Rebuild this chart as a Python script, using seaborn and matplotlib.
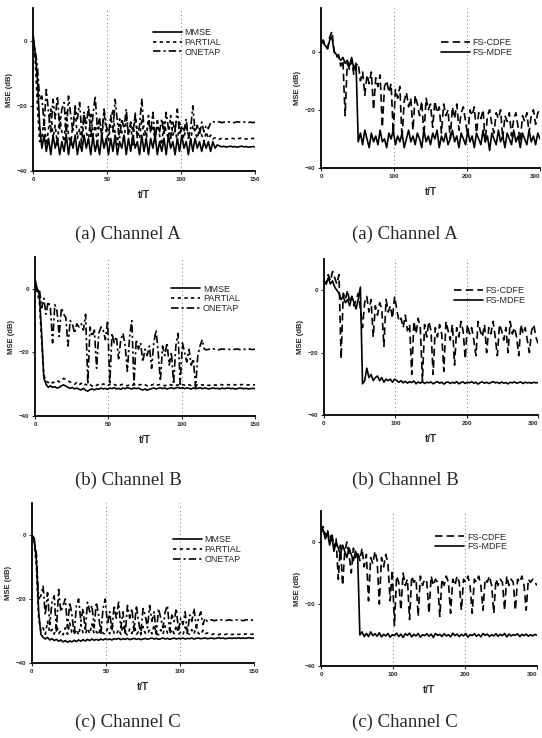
import numpy as np
import pandas as pd
import matplotlib
matplotlib.use("Agg")
import matplotlib.pyplot as plt
import seaborn as sns

sns.set_theme(style="ticks")
plt.rcParams['font.family'] = ['Liberation Sans', 'DejaVu Sans']

# ---------------- data ----------------
T_LEFT = np.arange(0, 151, 1.5)   # t/T samples, left column
T_RIGHT = np.arange(0, 301, 3)    # t/T samples, right column

LA_MMSE = [2, -4, -12, -26, -33, -29, -34, -30, -35, -29,
           -33, -30, -35, -31, -34, -29, -35, -30, -33, -29,
           -35, -31, -34, -29, -33, -30, -35, -29, -34, -31,
           -35, -29, -33, -30, -35, -30, -34, -29, -35, -31,
           -33, -29, -35, -30, -34, -29, -33, -31, -35, -29,
           -34, -30, -35, -30, -33, -29, -35, -31, -34, -30,
           -35, -29, -33, -31, -35, -30, -34, -29, -33, -31,
           -35, -30, -34, -30, -33, -31, -34, -31, -33, -31,
           -34, -31, -33, -32, -32.3, -32.6, -32.4, -32.7, -32.5, -32.4,
           -32.6, -32.5, -32.7, -32.5, -32.4, -32.6, -32.5, -32.7, -32.6, -32.5,
           -32.6]
LA_PARTIAL = [0, -6, -20, -31, -30, -24, -32, -27, -21, -30,
              -26, -32, -23, -28, -31, -22, -29, -32, -25, -21,
              -30, -27, -32, -23, -28, -31, -22, -29, -26, -32,
              -24, -30, -22, -28, -31, -25, -21, -29, -32, -24,
              -28, -31, -23, -29, -26, -32, -22, -28, -30, -24,
              -29, -31, -23, -28, -26, -31, -24, -29, -32, -25,
              -28, -30, -23, -29, -27, -31, -25, -28, -30, -26,
              -29, -31, -26, -28, -30, -27, -29, -31, -28, -30,
              -29, -30.2, -29.8, -30.1, -30.3, -29.9, -30.0, -30.2, -30.1, -29.9,
              -30.0, -30.2, -30.1, -30.0, -29.9, -30.1, -30.2, -30.0, -30.1, -30.0,
              -30.1]
LA_ONETAP = [1, -3, -8, -18, -17, -26, -15, -22, -28, -18,
             -24, -17, -27, -21, -19, -29, -17, -23, -28, -20,
             -24, -19, -29, -22, -26, -20, -30, -23, -17, -27,
             -24, -29, -21, -26, -29, -23, -28, -18, -25, -30,
             -24, -27, -21, -29, -25, -28, -23, -30, -26, -18,
             -27, -29, -25, -28, -22, -30, -26, -28, -24, -29,
             -22, -27, -30, -25, -28, -21, -29, -26, -28, -24,
             -30, -27, -20, -28, -26, -29, -25, -28, -26, -27,
             -25.2, -24.8, -25.1, -25.0, -24.9, -25.2, -25.0, -25.1, -24.9, -25.0,
             -25.2, -25.1, -24.9, -25.0, -25.1, -25.0, -24.9, -25.1, -25.0, -25.2,
             -25.0]

LB_MMSE = [3, 0, -2, -14, -28, -30, -31, -30.5, -31, -30.8,
           -31.2, -31, -30.5, -30.2, -30.6, -31, -31.3, -31, -31.5, -31.2,
           -31.6, -31.8, -31.3, -31.9, -32.2, -31.7, -31.5, -31.8, -31.4, -31.6,
           -31.2, -31.5, -31.3, -31.6, -31.2, -31.4, -31.1, -31.5, -31.3, -31.6,
           -31.2, -31.4, -31.1, -31.3, -31.5, -31.2, -31.4, -31.2, -31.6, -31.8,
           -31.5, -31.9, -31.6, -31.4, -31.2, -31.5, -31.3, -31.1, -31.4, -31.2,
           -31.5, -31.3, -31.1, -31.4, -31.2, -31.0, -31.3, -31.1, -31.4, -31.2,
           -31.3, -31.5, -31.2, -31.4, -31.3, -31.1, -31.4, -31.2, -31.3, -31.5,
           -31.3, -31.2, -31.4, -31.3, -31.5, -31.2, -31.4, -31.3, -31.2, -31.4,
           -31.3, -31.5, -31.4, -31.2, -31.3, -31.4, -31.3, -31.5, -31.4, -31.3,
           -31.4]
LB_PARTIAL = [2, -1, -4, -16, -27, -29, -29.5, -29, -29.6, -29.2,
              -28.8, -29.3, -28.7, -28.2, -28.5, -29, -29.3, -29.6, -30, -29.5,
              -30.2, -29.7, -30.4, -30, -30.5, -30.1, -30.6, -30.2, -30.4, -30,
              -30.3, -29.9, -30.2, -30.5, -30, -30.3, -30.1, -30.4, -30.6, -30.2,
              -30, -30.3, -30.5, -30.1, -30.4, -30.2, -30, -30.3, -30.1, -30.4,
              -30.2, -30.5, -30.1, -30.3, -30, -30.4, -30.2, -30.1, -30.3, -30.5,
              -30.2, -30, -30.3, -30.1, -30.4, -30.2, -30.5, -30.1, -30.3, -30,
              -30.2, -30.4, -30.1, -30.3, -30.2, -30, -30.3, -30.1, -30.2, -30.4,
              -30.2, -30.1, -30.3, -30.2, -30, -30.2, -30.3, -30.1, -30.2, -30.3,
              -30.1, -30.2, -30.3, -30.2, -30.1, -30.2, -30.3, -30.2, -30.1, -30.2,
              -30.2]
LB_ONETAP = [2, -1, 0, -6, -3, -8, -4, -6, -17, -5,
             -7, -15, -6, -8, -9, -18, -10, -11, -14, -11,
             -12, -11, -13, -8, -30, -12, -15, -13, -25, -14,
             -12, -13, -16, -10, -30, -14, -17, -15, -22, -16,
             -14, -18, -26, -15, -10, -30, -16, -19, -17, -23,
             -19, -21, -18, -25, -17, -13, -20, -29, -18, -21,
             -17, -24, -20, -30, -18, -14, -30, -17, -20, -23,
             -19, -24, -22, -31, -21, -18, -16, -19, -19.2, -19,
             -19.1, -18.9, -19, -19.2, -19.1, -18.9, -19, -19.1, -19, -19.2,
             -19.1, -19, -18.9, -19.1, -19.2, -19, -19.1, -18.9, -19, -19.1,
             -19]

LC_MMSE = [0, -1, -8, -24, -31, -32, -32.5, -32, -32.8, -32.4,
           -33, -32.6, -33.2, -32.8, -33.4, -33, -33.5, -33.1, -33.4, -32.9,
           -33.3, -32.8, -33.2, -32.7, -33.1, -32.6, -33, -32.5, -32.9, -32.6,
           -32.9, -32.5, -32.8, -32.4, -32.7, -32.5, -32.8, -32.4, -32.6, -32.3,
           -32.7, -32.4, -32.6, -32.3, -32.7, -32.5, -32.3, -32.6, -32.4, -32.7,
           -32.5, -32.3, -32.6, -32.4, -32.2, -32.5, -32.3, -32.6, -32.4, -32.2,
           -32.5, -32.3, -32.6, -32.4, -32.2, -32.5, -32.3, -32.4, -32.2, -32.5,
           -32.3, -32.4, -32.2, -32.5, -32.3, -32.2, -32.4, -32.3, -32.2, -32.4,
           -32.3, -32.2, -32.4, -32.3, -32.1, -32.3, -32.2, -32.4, -32.3, -32.2,
           -32.3, -32.2, -32.3, -32.1, -32.3, -32.2, -32.3, -32.2, -32.1, -32.3,
           -32.2]
LC_PARTIAL = [0, -2, -10, -26, -30, -29, -31, -27, -30.5, -29.5,
              -31, -28, -30.8, -30, -31.2, -29, -31, -27.5, -30.5, -31,
              -29.5, -31.2, -28, -30.6, -31, -29.2, -30.8, -27.8, -31, -30.2,
              -31.2, -28.5, -30.7, -31, -29.3, -30.9, -27.6, -30.8, -31.1, -29.5,
              -31, -28.2, -30.6, -31.2, -29.4, -30.8, -28, -31, -30.3, -31.2,
              -28.6, -30.7, -31, -29.5, -30.9, -28.1, -30.8, -31.2, -29.6, -31,
              -28.4, -30.6, -31.1, -29.4, -30.8, -28.3, -31, -30.4, -31.2, -28.8,
              -30.7, -31, -29.6, -30.9, -28.5, -30.8, -31.1, -29.8, -30.9, -30.6,
              -31, -31.1, -30.9, -31, -31.2, -30.9, -31, -31.1, -30.9, -31,
              -31.1, -31, -30.9, -31.1, -31, -31.2, -30.9, -31, -31.1, -31,
              -31]
LC_ONETAP = [0, -2, -6, -20, -19, -16, -25, -18, -28, -21,
             -19, -30, -17, -24, -22, -20, -29, -21, -25, -31,
             -22, -20, -27, -23, -30, -21, -24, -22, -29, -21,
             -25, -31, -23, -20, -28, -24, -30, -22, -26, -21,
             -29, -24, -31, -22, -26, -23, -30, -22, -27, -31,
             -23, -25, -29, -22, -27, -24, -31, -23, -26, -29,
             -24, -22, -30, -25, -27, -23, -30, -26, -28, -24,
             -31, -25, -27, -23, -29, -26, -24, -28, -26, -27,
             -26.6, -26.5, -26.8, -26.6, -26.7, -26.5, -26.6, -26.8, -26.6, -26.5,
             -26.7, -26.6, -26.5, -26.7, -26.6, -26.8, -26.6, -26.5, -26.7, -26.6,
             -26.6]

RA_CDFE = [3, 4, 2, 1, 5, 7, 0, -2, -1, -5,
           -3, -22, -4, -6, -3, -8, -5, -4, -10, -7,
           -15, -8, -11, -7, -20, -9, -12, -8, -26, -12,
           -10, -14, -11, -28, -13, -16, -12, -30, -17, -14,
           -19, -16, -27, -15, -18, -22, -17, -29, -16, -20,
           -18, -26, -17, -21, -19, -28, -18, -22, -20, -30,
           -19, -23, -18, -27, -21, -19, -24, -29, -20, -22,
           -19, -28, -21, -23, -20, -31, -22, -20, -25, -28,
           -21, -23, -20, -30, -22, -24, -21, -29, -23, -21,
           -26, -31, -22, -24, -21, -28, -22, -20, -25, -21,
           -20]
RA_MDFE = [3, 3, 2, 1, 4, 5, 0, -1, -2, -3,
           -2, -4, -3, -5, -2, -6, -4, -31, -28, -32,
           -27, -30, -33, -28, -31, -29, -32, -27, -31, -30,
           -33, -28, -30, -27, -32, -29, -31, -28, -33, -30,
           -27, -31, -29, -32, -28, -30, -33, -27, -31, -29,
           -32, -28, -30, -27, -33, -29, -31, -28, -32, -30,
           -27, -31, -29, -33, -28, -30, -32, -27, -31, -29,
           -33, -28, -30, -32, -27, -31, -29, -34, -28, -30,
           -32, -27, -31, -29, -33, -28, -30, -32, -27, -31,
           -29, -33, -28, -30, -32, -27, -31, -29, -32, -28,
           -30]

RB_CDFE = [3, 2, 5, 3, 6, 4, 2, 5, -22, -1,
           -3, 0, -4, -2, -5, -3, -1, -6, -12, -4,
           -2, -7, -3, -15, -5, -8, -4, -6, -18, -3,
           -7, -5, -9, -2, -6, -10, -9, -12, -8, -13,
           -11, -27, -10, -14, -9, -12, -29, -11, -15, -10,
           -13, -27, -12, -15, -11, -14, -26, -10, -13, -16,
           -11, -24, -12, -15, -10, -13, -22, -11, -14, -12,
           -16, -21, -10, -13, -15, -11, -20, -12, -14, -10,
           -15, -21, -11, -13, -16, -12, -20, -10, -14, -12,
           -15, -21, -11, -14, -12, -16, -20, -13, -11, -15,
           -17]
RB_MDFE = [3, 2, 4, 2, 3, 1, 0, -1, -3, -2,
           -4, -3, -5, -2, -4, -6, -3, 1, -30, -29,
           -25, -28, -27, -29, -28, -27.5, -29, -28, -29.5, -28.5,
           -29, -28.5, -29.5, -28.5, -29, -29.5, -29, -29.7, -29.2, -29.8,
           -29.3, -29.6, -29.1, -30, -29.4, -29.8, -29.3, -29.9, -29.5, -29.7,
           -29.4, -30, -29.6, -29.3, -29.8, -29.5, -30.1, -29.6, -29.4, -29.9,
           -29.5, -29.8, -29.3, -30, -29.6, -29.4, -29.9, -29.5, -29.7, -29.3,
           -29.8, -29.5, -30.1, -29.6, -29.4, -29.8, -29.5, -29.9, -29.6, -29.3,
           -29.7, -29.5, -29.9, -29.4, -29.8, -29.6, -30, -29.5, -29.7, -29.4,
           -29.8, -29.6, -29.4, -29.9, -29.5, -29.7, -29.6, -29.8, -29.5, -29.7,
           -29.6]

RC_CDFE = [3, 5, 2, 4, 0, 3, -2, 1, -12, -1,
           -14, -3, 0, -4, -10, -2, -5, -3, -6, -2,
           -8, -4, -19, -5, -7, -3, -6, -20, -5, -8,
           -4, -7, -19, -9, -27, -11, -13, -22, -10, -14,
           -12, -25, -11, -13, -12, -24, -11, -14, -12, -13,
           -23, -11, -14, -12, -13, -24, -12, -14, -11, -13,
           -23, -12, -14, -11, -13, -22, -12, -13, -11, -14,
           -23, -12, -13, -11, -14, -22, -12, -13, -11, -14,
           -23, -12, -14, -12, -13, -22, -11, -14, -12, -13,
           -22, -12, -13, -11, -14, -22, -12, -13, -12, -13,
           -14]
RC_MDFE = [3, 4, 1, 3, -1, 2, -3, 0, -2, -4,
           -1, -3, -5, -2, -4, -6, -3, -5, -30, -29,
           -30.5, -29.5, -30.5, -29, -30.2, -29.6, -30.4, -29.3, -30.6, -29.8,
           -30.3, -29.5, -30.7, -29.9, -30.2, -29.4, -30.5, -29.7, -30.8, -29.6,
           -30.1, -29.4, -30.6, -29.8, -30.3, -29.5, -30.7, -29.9, -30.2, -29.6,
           -30.4, -29.7, -30.8, -29.5, -30.1, -29.8, -30.5, -29.6, -30.3, -29.9,
           -30.6, -29.4, -30.2, -29.7, -30.5, -29.8, -30.3, -29.5, -30.7, -29.9,
           -30.2, -29.6, -30.4, -29.8, -30.6, -29.5, -30.1, -29.7, -30.5, -29.9,
           -30.3, -29.6, -30.4, -29.8, -30.2, -29.5, -30.6, -29.7, -30.3, -29.9,
           -30.1, -29.6, -30.5, -29.8, -30.2, -29.7, -30.4, -29.9, -30.3, -29.8,
           -30.1]

LEFT_LABELS = ["MMSE", "PARTIAL", "ONETAP"]
RIGHT_LABELS = ["FS-CDFE", "FS-MDFE"]
CAPTIONS = ["(a) Channel A", "(b) Channel B", "(c) Channel C"]

# ---------------- styling ----------------
STY = {
    "MMSE": "-",
    "PARTIAL": (0, (2.0, 2.0)),
    "ONETAP": (0, (4.5, 1.8, 1.3, 1.8)),
    "FS-CDFE": (0, (4.5, 2.5)),
    "FS-MDFE": "-",
}

W, H = 542, 738
fig = plt.figure(figsize=(W / 100, H / 100), dpi=100)


def rect(x0, y_top, x1, y_bot):
    return [x0 / W, (H - y_bot) / H, (x1 - x0) / W, (y_bot - y_top) / H]


panels = [
    dict(r=rect(33, 8, 255, 171), t=T_LEFT, labels=LEFT_LABELS,
         vals=[LA_MMSE, LA_PARTIAL, LA_ONETAP], xmax=150, xt=[0, 50, 100, 150],
         ylim=(-40, 10), leg=(0.54, 0.79)),
    dict(r=rect(321, 8, 540, 168), t=T_RIGHT, labels=RIGHT_LABELS,
         vals=[RA_CDFE, RA_MDFE], xmax=300, xt=[0, 100, 200, 300],
         ylim=(-40, 15), leg=(0.548, 0.753)),
    dict(r=rect(35, 257, 255, 416), t=T_LEFT, labels=LEFT_LABELS,
         vals=[LB_MMSE, LB_PARTIAL, LB_ONETAP], xmax=150, xt=[0, 50, 100, 150],
         ylim=(-40, 10), leg=(0.62, 0.736)),
    dict(r=rect(324, 259, 538, 415), t=T_RIGHT, labels=RIGHT_LABELS,
         vals=[RB_CDFE, RB_MDFE], xmax=300, xt=[0, 100, 200, 300],
         ylim=(-40, 10), leg=(0.607, 0.766)),
    dict(r=rect(32, 503, 254, 663), t=T_LEFT, labels=LEFT_LABELS,
         vals=[LC_MMSE, LC_PARTIAL, LC_ONETAP], xmax=150, xt=[0, 50, 100, 150],
         ylim=(-40, 10), leg=(0.635, 0.71)),
    dict(r=rect(321, 511, 537, 666), t=T_RIGHT, labels=RIGHT_LABELS,
         vals=[RC_CDFE, RC_MDFE], xmax=300, xt=[0, 100, 200, 300],
         ylim=(-40, 10), leg=(0.53, 0.80)),
]

for p in panels:
    ax = fig.add_axes(p["r"])
    for xv in p["xt"][1:-1]:
        ax.axvline(xv, color="0.45", lw=0.7, ls=(0, (1, 3)), zorder=0)
    for lab, v in zip(p["labels"], p["vals"]):
        df = pd.DataFrame({"t": p["t"], "mse": v})
        sns.lineplot(data=df, x="t", y="mse", ax=ax, color="black", lw=1.2,
                     linestyle=STY[lab], label=lab, errorbar=None)
    ax.set_xlim(0, p["xmax"])
    ax.set_ylim(*p["ylim"])
    ax.set_xticks(p["xt"])
    ax.set_yticks([-40, -20, 0])
    ax.set_xlabel("t/T", fontsize=7, fontweight="bold", labelpad=6)
    ax.set_ylabel("MSE (dB)", fontsize=5.5, fontweight="bold", labelpad=3)
    ax.tick_params(labelsize=4.5, length=2, width=0.8, pad=2)
    for tl in ax.get_xticklabels() + ax.get_yticklabels():
        tl.set_fontweight("bold")
    if p["xmax"] == 300:
        ax.get_xticklabels()[-1].set_horizontalalignment("right")
    sns.despine(ax=ax)
    for s in ("left", "bottom"):
        ax.spines[s].set_linewidth(1.3)
        ax.spines[s].set_color("black")
    ax.legend(loc="center left", bbox_to_anchor=p["leg"], frameon=False,
              fontsize=6.5, handlelength=3.2, handletextpad=0.3,
              labelspacing=0.1, borderpad=0, borderaxespad=0)

for idx, y in enumerate((234, 480, 722)):
    for xc in (128, 405):
        fig.text(xc / W, 1 - y / H, CAPTIONS[idx], ha="center", va="center",
                 fontsize=13.5, family="Liberation Serif")

fig.savefig("out.png", dpi=100)
